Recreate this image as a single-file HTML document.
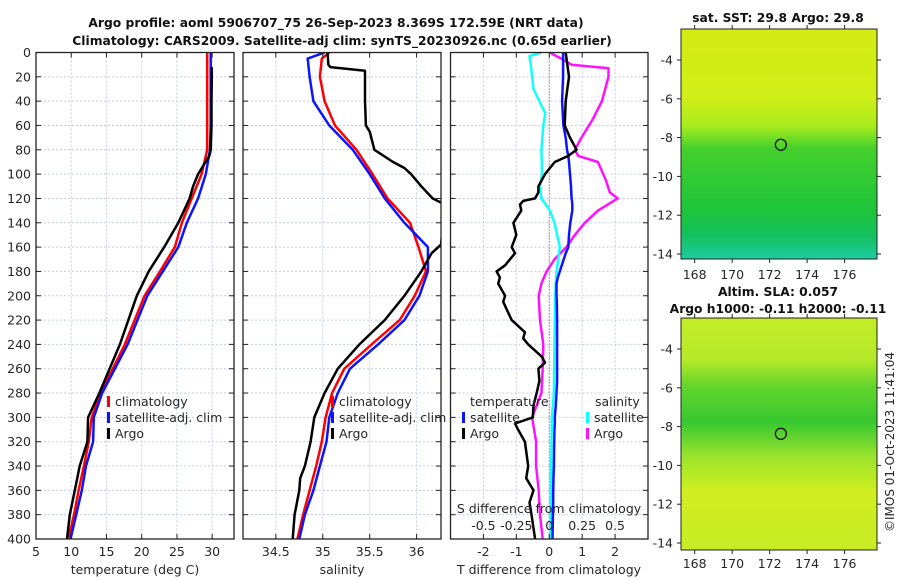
<!DOCTYPE html>
<html><head><meta charset="utf-8"><style>
html,body{margin:0;padding:0;background:#fff;}
svg{display:block;font-family:"DejaVu Sans","Liberation Sans",sans-serif;}
</style></head><body>
<svg id="fig" width="900" height="580" viewBox="0 0 900 580" xmlns="http://www.w3.org/2000/svg">
<defs>
<linearGradient id="g1" x1="0" y1="0" x2="0" y2="1">
<stop offset="0" stop-color="#d4ec14"/><stop offset="0.3" stop-color="#d0ee18"/><stop offset="0.42" stop-color="#a8ec1c"/>
<stop offset="0.52" stop-color="#44d02c"/><stop offset="0.8" stop-color="#1cc43c"/><stop offset="0.9" stop-color="#14c060"/><stop offset="1" stop-color="#1ccca0"/>
</linearGradient>
<linearGradient id="g2" x1="0" y1="0" x2="0" y2="1">
<stop offset="0" stop-color="#c4ec28"/><stop offset="0.18" stop-color="#b4ea28"/><stop offset="0.3" stop-color="#60d42c"/>
<stop offset="0.45" stop-color="#38c830"/><stop offset="0.6" stop-color="#9ce42c"/><stop offset="0.75" stop-color="#d0ee20"/><stop offset="1" stop-color="#c8ec24"/>
</linearGradient>
</defs>
<g id="root"></g>
</svg>
<script>
// ---------- data ----------
const depthT = [0,20,40,60,80,100,120,140,160,180,200,240,280,300,320,340,360,380,400];
const tClim  = [29.3,29.3,29.3,29.3,29.3,28.5,27.1,25.7,24.7,22.6,20.4,17.6,14.2,12.9,12.5,11.8,11.05,10.4,9.6];
const tSat   = [29.8,29.8,29.8,29.8,29.7,29.1,28.0,26.4,25.2,23.0,20.8,18.0,14.4,13.2,13.1,12.1,11.5,10.7,9.9];
const depthTA= [12,20,40,60,80,85,100,110,120,130,140,160,180,200,240,280,300,320,340,360,380,400];
const tArgo  = [29.95,29.95,29.9,29.9,29.8,29.6,28.0,27.3,26.8,26.0,25.2,23.2,21.0,19.3,16.9,14.0,12.4,12.3,11.2,10.5,9.8,9.4];

const depthS = [0,5,20,40,60,80,100,120,140,160,180,200,220,240,260,280,300,320,340,360,380,400];
const sClim  = [35.07,34.99,34.97,35.02,35.13,35.36,35.53,35.69,35.93,36.02,36.1,35.98,35.82,35.52,35.23,35.1,35.03,34.99,34.93,34.86,34.79,34.73];
const sSat   = [35.02,34.84,34.86,34.9,35.07,35.32,35.5,35.66,35.87,36.12,36.12,36.03,35.87,35.59,35.29,35.16,35.07,35.04,34.97,34.9,34.81,34.75];
const depthSA= [0,10,12,15,40,60,65,80,90,95,100,110,120,125,158,165,180,200,220,240,260,280,300,320,340,350,360,380,400];
const sArgo  = [35.05,35.06,35.08,35.45,35.45,35.46,35.5,35.55,35.75,35.87,35.94,36.05,36.17,36.3,36.26,36.16,36.05,35.87,35.66,35.39,35.16,35.02,34.91,34.87,34.81,34.76,34.75,34.7,34.68];

const depthD = [0,20,40,60,70,80,85,90,100,110,115,120,122,125,130,140,150,160,165,175,180,185,190,200,205,220,230,235,240,250,255,260,270,280,290,300,305,310,320,340,350,360,370,380,400];
const dTsat  = [0.42,0.42,0.39,0.43,0.5,0.54,0.58,0.6,0.63,0.66,0.67,0.68,0.69,0.7,0.7,0.64,0.6,0.58,0.5,0.38,0.32,0.26,0.22,0.22,0.23,0.24,0.24,0.24,0.24,0.24,0.24,0.24,0.24,0.22,0.2,0.17,0.17,0.16,0.15,0.14,0.13,0.12,0.12,0.11,0.1];
const dTargo = [0.5,0.6,0.5,0.47,0.63,0.83,0.58,0.17,-0.13,-0.33,-0.33,-0.43,-0.79,-0.89,-0.85,-1.09,-1.0,-1.14,-1.04,-1.34,-1.6,-1.5,-1.55,-1.34,-1.4,-1.14,-0.74,-0.79,-0.64,-0.23,-0.13,-0.33,-0.3,-0.38,-0.48,-0.5,-1.04,-0.95,-0.74,-0.64,-0.7,-0.48,-0.6,-0.54,-0.43];
const depthDS= [0,3,10,30,50,60,80,100,110,120,130,140,160,180,190,200,240,280,300,340,400];
const dSsat  = [-0.06,-0.15,-0.14,-0.12,-0.03,-0.045,-0.06,-0.055,-0.07,-0.06,0.005,0.04,0.08,0.055,0.05,0.045,0.04,0.035,0.02,0.015,0.01];
const depthDA= [0,5,10,13,20,40,55,70,80,85,90,100,105,115,120,130,140,150,160,170,180,190,200,220,240,260,280,300,320,340,360,380,400];
const dSargo = [0.005,0.09,0.17,0.45,0.45,0.4,0.33,0.245,0.195,0.22,0.37,0.41,0.43,0.46,0.52,0.37,0.27,0.195,0.13,0.04,-0.02,-0.06,-0.08,-0.07,-0.045,-0.05,-0.06,-0.13,-0.1,-0.1,-0.08,-0.07,-0.05];

const depthTicks = [0,20,40,60,80,100,120,140,160,180,200,220,240,260,280,300,320,340,360,380,400];
const tTicks = [5,10,15,20,25,30];
const sTicks = [34.5,35,35.5,36];
const sTickLabels = ["34.5","35","35.5","36"];
const dTTicks = [-2,-1,0,1,2];
const dSTicks = [-0.5,-0.25,0,0.25,0.5];
const dSTickLabels = ["-0.5","-0.25","0","0.25","0.5"];
const lonTicks = [168,170,172,174,176];
const latTicks = [-4,-6,-8,-10,-12,-14];
const argoLon = 172.6, argoLat = -8.37;

// ---------- helpers ----------
const NS="http://www.w3.org/2000/svg";
const root=document.getElementById('root');
const FS=12.5;
function mk(tag,attrs,parent){const e=document.createElementNS(NS,tag);for(const k in attrs)e.setAttribute(k,attrs[k]);(parent||root).appendChild(e);return e;}
function txt(x,y,s,opts){const e=mk('text',Object.assign({x:x,y:y,'font-size':FS,fill:'#262626'},opts||{}));e.textContent=s;return e;}

const Y0=52.5, Y1=539;
const yD = d => Y0 + d/400*(Y1-Y0);
function lin(d0,d1,p0,p1){return v=>p0+(v-d0)/(d1-d0)*(p1-p0);}

const panels=[
 {name:'temperature-panel',x0:36,x1:234,xs:lin(5,33.1,36,234)},
 {name:'salinity-panel',x0:243,x1:441,xs:lin(34.15,36.26,243,441)},
 {name:'difference-panel',x0:450.5,x1:648,xs:lin(-3,3,450.5,648)}
];

function panelFrame(p,xticks){
  const g=mk('g',{});
  
  
  mk('rect',{x:p.x0,y:Y0,width:p.x1-p.x0,height:Y1-Y0,fill:'#fff'},g);
  depthTicks.forEach(d=>{ if(d>0&&d<400) mk('line',{x1:p.x0,x2:p.x1,y1:yD(d),y2:yD(d),stroke:'#c4cce8','stroke-width':1,'stroke-dasharray':'2,2'},g);});
  xticks.forEach(v=>{const x=p.xs(v); mk('line',{x1:x,x2:x,y1:Y0,y2:Y1,stroke:'#c4cce8','stroke-width':1,'stroke-dasharray':'2,2'},g);});
  p.g=g; return g;
}
function panelBorder(p,xticks,labels,ylabels){
  const g=p.g;
  depthTicks.forEach(d=>{mk('line',{x1:p.x0,x2:p.x0+5,y1:yD(d),y2:yD(d),stroke:'#222'},g);mk('line',{x1:p.x1-5,x2:p.x1,y1:yD(d),y2:yD(d),stroke:'#222'},g);
    if(ylabels){const t=txt(p.x0-5,yD(d)+4.5,String(d),{'text-anchor':'end'});}});
  xticks.forEach((v,i)=>{const x=p.xs(v);mk('line',{x1:x,x2:x,y1:Y1-5,y2:Y1,stroke:'#222'},g);mk('line',{x1:x,x2:x,y1:Y0,y2:Y0+5,stroke:'#222'},g);
    const t=txt(x,556,labels[i],{'text-anchor':'middle'});});
  mk('rect',{x:p.x0,y:Y0,width:p.x1-p.x0,height:Y1-Y0,fill:'none',stroke:'#222','stroke-width':1.3},g);
}
function line(xs,ys,xf,color,w,name,g){
  const pts=xs.map((v,i)=>xf(v).toFixed(1)+','+yD(ys[i]).toFixed(1)).join(' ');
  const e=mk('polyline',{points:pts,fill:'none',stroke:color,'stroke-width':w,'stroke-linejoin':'round'},g);
  
  
  return e;
}

// titles
let t1=txt(336,27,'Argo profile: aoml 5906707_75 26-Sep-2023 8.369S 172.59E (NRT data)',{'text-anchor':'middle','font-weight':'bold',fill:'#111','font-size':12.3});

let t2=txt(342,45,'Climatology: CARS2009. Satellite-adj clim: synTS_20230926.nc (0.65d earlier)',{'text-anchor':'middle','font-weight':'bold',fill:'#111','font-size':12.3});


// panel 1
const P1=panels[0];
panelFrame(P1,tTicks);
const cp=mk('clipPath',{id:'clip2'});mk('rect',{x:243,y:Y0,width:198,height:Y1-Y0},cp);
line(tClim,depthT,P1.xs,'#ff0000',2.5,'temperature-climatology-line',P1.g);
line(tSat,depthT,P1.xs,'#0a14ff',2.5,'temperature-satellite-line',P1.g);
line(tArgo,depthTA,P1.xs,'#000',2.5,'temperature-argo-line',P1.g);
panelBorder(P1,tTicks,tTicks.map(String),true);
let a1=txt(135,574,'temperature (deg C)',{'text-anchor':'middle'});

// panel 2
const P2=panels[1];
panelFrame(P2,sTicks);
const g2=mk('g',{'clip-path':'url(#clip2)'},P2.g);
line(sClim,depthS,P2.xs,'#ff0000',2.5,'salinity-climatology-line',g2);
line(sSat,depthS,P2.xs,'#0a14ff',2.5,'salinity-satellite-line',g2);
line(sArgo,depthSA,P2.xs,'#000',2.5,'salinity-argo-line',g2);
panelBorder(P2,sTicks,sTickLabels,false);
let a2=txt(342,574,'salinity',{'text-anchor':'middle'});

// panel 3
const P3=panels[2];
panelFrame(P3,dTTicks);
const sx=lin(-0.75,0.75,450.5,648);
mk('line',{x1:P3.xs(0),x2:P3.xs(0),y1:Y0,y2:Y1,stroke:'#555','stroke-width':1,'stroke-dasharray':'1,2'},P3.g);
line(dSargo,depthDA,sx,'#ff10ff',2.5,'salinity-argo-difference-line',P3.g);
line(dSsat,depthDS,sx,'#10ffff',2.5,'salinity-satellite-difference-line',P3.g);
line(dTsat,depthD,P3.xs,'#0a14ff',2.5,'temperature-satellite-difference-line',P3.g);
line(dTargo,depthD,P3.xs,'#000',2.5,'temperature-argo-difference-line',P3.g);
panelBorder(P3,dTTicks,dTTicks.map(String),false);
let a3=txt(549,574,'T difference from climatology',{'text-anchor':'middle'});
let a4=txt(549,513,'S difference from climatology',{'text-anchor':'middle'});
dSTicks.forEach((v,i)=>{const t=txt(sx(v),530,dSTickLabels[i],{'text-anchor':'middle'});});

// legends
function legend(x,y,items,name){
  const g=mk('g',{});
  items.forEach((it,i)=>{const yy=y+i*16;mk('rect',{x:x,y:yy-10,width:3,height:11,fill:it[1]},g);
    const t=txt(x+8,yy,it[0]);g.appendChild(t);});
}
legend(107,406,[['climatology','#ff0000'],['satellite-adj. clim','#0a14ff'],['Argo','#000']],'temperature-legend');
legend(331,406,[['climatology','#ff0000'],['satellite-adj. clim','#0a14ff'],['Argo','#000']],'salinity-legend');
let lt=txt(470,406,'temperature',{});
let ls=txt(595,406,'salinity',{});
legend(462,422,[['satellite','#0a14ff'],['Argo','#000']],'difference-legend-temperature');
legend(586,422,[['satellite','#10ffff'],['Argo','#ff10ff']],'difference-legend-salinity');

// maps
function map(y0,y1,grad,name,titles,lonLabelY){
  const x0=681,x1=877;
  const lx=lin(167.27,177.73,x0,x1);
  const ly=lin(-4,-14,y0+31,y0+31+194);
  const g=mk('g',{});
  mk('rect',{x:x0,y:y0,width:x1-x0,height:y1-y0,fill:'url(#'+grad+')'},g);
  mk('rect',{x:x0,y:y0,width:x1-x0,height:y1-y0,fill:'none',stroke:'#222','stroke-width':1},g);
  const c=mk('circle',{cx:lx(argoLon),cy:ly(argoLat),r:5.5,fill:'none',stroke:'#111','stroke-width':1.3},g);
  
  latTicks.forEach(v=>{const y=ly(v);mk('line',{x1:x0-4,x2:x0,y1:y,y2:y,stroke:'#222'},g);mk('line',{x1:x1,x2:x1+4,y1:y,y2:y,stroke:'#222'},g);
    const t=txt(673,y+4.5,String(v),{'text-anchor':'end'});g.appendChild(t);});
  lonTicks.forEach(v=>{const x=lx(v);mk('line',{x1:x,x2:x,y1:y1,y2:y1+4,stroke:'#222'},g);mk('line',{x1:x,x2:x,y1:y0-4,y2:y0,stroke:'#222'},g);
    const t=txt(x,lonLabelY,String(v),{'text-anchor':'middle'});g.appendChild(t);});
  titles.forEach(tt=>{const t=txt(778,tt[1],tt[0],{'text-anchor':'middle','font-weight':'bold',fill:'#111','font-size':12.3});g.appendChild(t);});
}
map(29,259,'g1','sst-map',[['sat. SST: 29.8 Argo: 29.8',22]],279);
map(318,550,'g2','sla-map',[['Altim. SLA: 0.057',296],['Argo h1000: -0.11 h2000: -0.11',313]],568);
let cr=txt(894,442,'©IMOS 01-Oct-2023 11:41:04',{'text-anchor':'middle',transform:'rotate(-90 894 442)','font-size':12});

</script>
</body></html>
